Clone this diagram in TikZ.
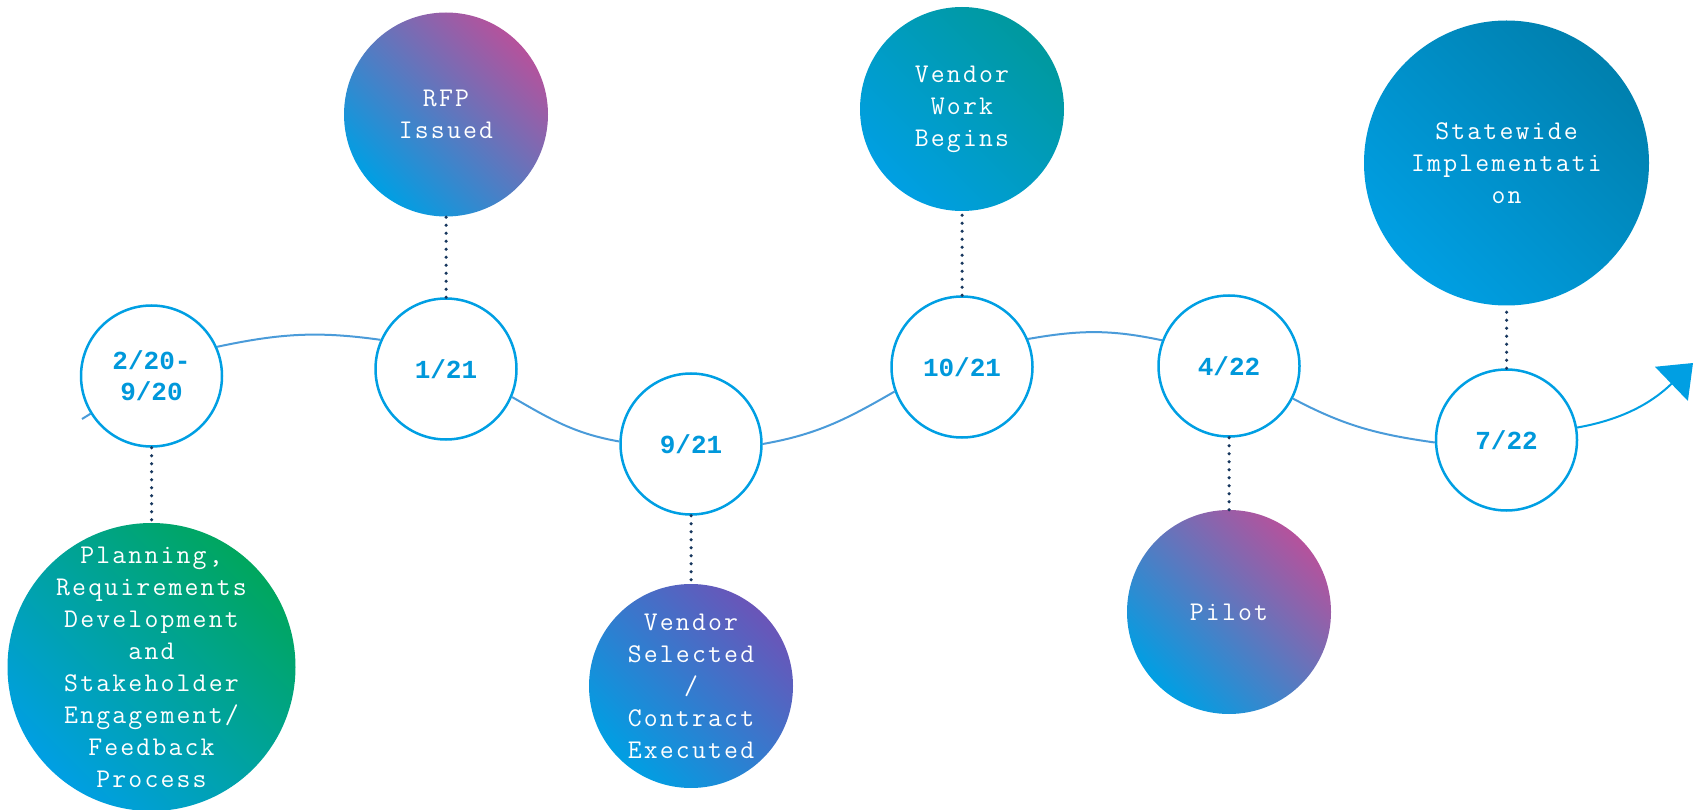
\documentclass[tikz,border=0pt]{standalone}
\usepackage{fontspec}
\setmonofont{Liberation Mono}
\newfontfamily\courfont{Latin Modern Mono}[LetterSpace=8]
\usetikzlibrary{arrows.meta}
\definecolor{tlBlue}{HTML}{009FE3}
\definecolor{dateBlue}{HTML}{0098DB}
\definecolor{lineBlue}{HTML}{4A9BD9}
\definecolor{dotNavy}{HTML}{17375E}
\definecolor{tlGreen}{HTML}{00A65E}
\definecolor{tlMagenta}{HTML}{B5529C}
\definecolor{tlPurple}{HTML}{6A55B8}
\definecolor{tlTeal}{HTML}{00999E}
\definecolor{tlDeep}{HTML}{0080AE}

\begin{document}
\begin{tikzpicture}[x=1pt, y=-1pt, font=\courfont\fontsize{27}{32}\selectfont,
      date/.style={circle, draw=tlBlue, line width=2.5pt, fill=white, minimum size=141pt,
                   inner sep=0pt, align=center, text=dateBlue,
                   font=\ttfamily\bfseries\fontsize{26}{31}\selectfont},
      milestone/.style={circle, minimum size=204pt, inner sep=-40pt, align=center, text=white,
                        bottom color=tlBlue, top color=#1, shading angle=-45},
      link/.style={draw=dotNavy, line width=3.5pt, line cap=round, dash pattern=on 0pt off 8pt},
      wave/.style={draw=lineBlue, line width=2pt}]
    \useasboundingbox (0,0) rectangle (1698,810);
    % dates on the timeline
    \node[date] (d1) at (151.5,376) {2/20-\\9/20};
    \node[date] (d2) at (446,369) {1/21};
    \node[date] (d3) at (691,444) {9/21};
    \node[date] (d4) at (962,367) {10/21};
    \node[date] (d5) at (1229,366) {4/22};
    \node[date] (d6) at (1506.5,440) {7/22};
    % milestones
    \node[milestone=tlGreen, minimum size=288pt] (plan) at (151.5,667)
      {Planning,\\Requirements\\Development\\and\\Stakeholder\\Engagement/\\Feedback\\Process};
    \node[milestone=tlMagenta] (rfp) at (446,114.5) {RFP\\Issued};
    \node[milestone=tlPurple] (select) at (691,686) {Vendor\\Selected\\/\\Contract\\Executed};
    \node[milestone=tlTeal] (work) at (962,109) {Vendor\\Work\\Begins};
    \node[milestone=tlMagenta] (pilot) at (1229,612) {Pilot};
    \node[milestone=tlDeep, minimum size=285pt] (state) at (1506.5,163)
      {Statewide\\Implementati\\on};
    \draw[link] (d1) -- (plan);
    \draw[link] (d2) -- (rfp);
    \draw[link] (d3) -- (select);
    \draw[link] (d4) -- (work);
    \draw[link] (d5) -- (pilot);
    \draw[link] (d6) -- (state);
    % the wave
    \coordinate (tail) at (82,419);
    \coordinate (tip) at (1693,363);
    \draw[wave] (tail) -- (d1);
    \draw[wave] (d1.24) to[out=12, in=172] (d2.156);
    \draw[wave] (d2.-23) to[out=-30, in=170] (d3.178);
    \draw[wave] (d3.0) to[out=10, in=210] (d4.200);
    \draw[wave] (d4.23) to[out=10, in=168] (d5.159);
    \draw[wave] (d5.-27) to[out=-28, in=172] (d6.182);
    \draw[wave, -{Triangle[length=30pt, width=47pt]}, tlBlue] (d6.10) to[out=10, in=224] (tip);
  \end{tikzpicture}
\end{document}
